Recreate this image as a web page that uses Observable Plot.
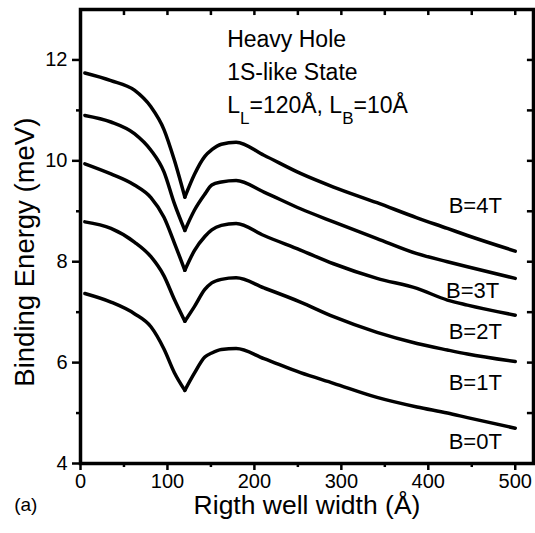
<!DOCTYPE html>
<html><head><meta charset="utf-8">
<script src="https://cdn.jsdelivr.net/npm/d3@7"></script>
<script src="https://cdn.jsdelivr.net/npm/@observablehq/plot@0.6"></script>
<style>body{margin:0;background:#fff} svg{display:block}</style>
</head><body><div id="chart"></div>
<script>
// Right well width (Å)
const widths = [5, 35, 62, 81, 96, 108, 120, 131, 143, 151, 162, 179, 211, 253, 291, 341, 387, 422, 445, 500];
// Binding energy (meV) per magnetic field
const b0T = [7.37, 7.20, 6.97, 6.71, 6.27, 5.80, 5.45, 5.79, 6.11, 6.19, 6.26, 6.28, 6.08, 5.80, 5.59, 5.31, 5.12, 5.00, 4.91, 4.70];
const b1T = [8.79, 8.66, 8.39, 8.10, 7.72, 7.25, 6.82, 7.11, 7.45, 7.58, 7.65, 7.68, 7.48, 7.20, 6.91, 6.60, 6.38, 6.25, 6.17, 6.02];
const b2T = [9.94, 9.74, 9.52, 9.27, 8.88, 8.37, 7.83, 8.22, 8.50, 8.63, 8.72, 8.76, 8.52, 8.23, 7.96, 7.67, 7.47, 7.24, 7.14, 6.94];
const b3T = [10.90, 10.77, 10.54, 10.21, 9.78, 9.15, 8.62, 9.02, 9.34, 9.52, 9.58, 9.61, 9.38, 9.05, 8.79, 8.46, 8.16, 8.00, 7.90, 7.67];
const b4T = [11.74, 11.59, 11.40, 11.07, 10.62, 10.01, 9.28, 9.73, 10.09, 10.22, 10.33, 10.37, 10.11, 9.75, 9.48, 9.17, 8.87, 8.66, 8.52, 8.21];
const wellCenter = 120; // the dip, where the left well width equals the right one

const seriesNames = ["B=0T", "B=1T", "B=2T", "B=3T", "B=4T"];
const seriesValues = [b0T, b1T, b2T, b3T, b4T];
const labelX = [454, 454, 454, 451, 454];
const labelY = [4.29, 5.45, 6.47, 7.28, 8.96];

const annLines = ["Heavy Hole", "1S-like State", "L_L=120Å, L_B=10Å"];
const annX = [168.7, 168.7, 168.7];
const annY = [12.266, 11.611, 10.943];

const xTicks = [0, 100, 200, 300, 400, 500];
const xMinor = [50, 150, 250, 350, 450];
const xTop = [50, 100, 150, 200, 250, 300, 350, 400, 450, 500];
const yTicks = [4, 6, 8, 10, 12];
const yMinor = [5, 7, 9, 11];
const yRight = [5, 6, 7, 8, 9, 10, 11, 12];

const xLabel = "Rigth well width (Å)";
const yLabel = "Binding Energy (meV)";
const panelLabel = "(a)";

// each curve is drawn as two smooth branches meeting in the sharp dip
const table = [];
seriesNames.forEach((name, i) => {
  widths.forEach((w, j) => {
    const e = seriesValues[i][j];
    if (w <= wellCenter) table.push({series: name, seg: name + "-L", width: w, energy: e});
    if (w >= wellCenter) table.push({series: name, seg: name + "-R", width: w, energy: e});
  });
});
const labels = seriesNames.map((name, i) => ({text: name, x: labelX[i], y: labelY[i]}));
const ann = annLines.map((t, i) => ({text: t, x: annX[i], y: annY[i]}));

const tickStyle = {stroke: "black", strokeWidth: 2.5};

const chart = Plot.plot({
  width: 535, height: 533,
  marginLeft: 80, marginRight: 2, marginTop: 9, marginBottom: 70,
  x: {domain: [0, 521]},
  y: {domain: [4, 13]},
  style: {fontFamily: "'Liberation Sans', Arial, Helvetica, sans-serif", background: "white", color: "black"},
  marks: [
    Plot.line(table, {x: "width", y: "energy", z: "seg", curve: "monotone-x", stroke: "black", strokeWidth: 3.5}),
    Plot.frame({stroke: "black", strokeWidth: 3.5}),
    Plot.axisX(xTicks, {tickSize: 7, tickPadding: 3, fontSize: 20, strokeWidth: 2.5, label: null, tickFormat: d3.format("d")}),
    Plot.axisY(yTicks, {tickSize: 8, tickPadding: 5, fontSize: 20, strokeWidth: 2.5, label: null, tickFormat: d3.format("d")}),
    // minor outward ticks (bottom, left)
    Plot.ruleX(xMinor, {x: d => d, y1: 4, y2: 3.92, ...tickStyle}),
    Plot.ruleY(yMinor, {y: d => d, x1: 0, x2: -4.6, ...tickStyle}),
    // inward ticks (top, right)
    Plot.ruleX(xTop, {x: d => d, y1: 13, y2: 12.88, ...tickStyle}),
    Plot.ruleY(yRight, {y: d => d, x1: 521, x2: 514, ...tickStyle}),
    Plot.text(labels, {x: "x", y: "y", text: "text", fontSize: 22, textAnchor: "middle", lineAnchor: "bottom", fill: "black"}),
    Plot.text(ann, {x: "x", y: "y", text: "text", fontSize: 23, textAnchor: "start", lineAnchor: "bottom", fill: "black"}),
    Plot.text([xLabel], {x: 260.5, y: 3.0, text: d => d, fontSize: 26.5, textAnchor: "middle", lineAnchor: "bottom", fill: "black"}),
    Plot.text([yLabel], {x: -53, y: 8.19, text: d => d, fontSize: 27.5, rotate: -90, textAnchor: "middle", lineAnchor: "bottom", fill: "black"}),
    Plot.text([panelLabel], {x: -76.3, y: 3.05, text: d => d, fontSize: 19, textAnchor: "start", lineAnchor: "bottom", fill: "black"})
  ]
});

// subscripts for "L_L", "L_B"
chart.querySelectorAll("text").forEach(t => {
  const s = t.textContent;
  if (!s.includes("_")) return;
  t.textContent = "";
  const parts = s.split(/_(.)/);
  parts.forEach((p, i) => {
    const ts = document.createElementNS("http://www.w3.org/2000/svg", "tspan");
    ts.textContent = p;
    if (i % 2 === 1) { ts.setAttribute("dy", "11"); ts.setAttribute("font-size", "17"); }
    else if (i > 0) { ts.setAttribute("dy", "-11"); }
    t.appendChild(ts);
  });
});

document.getElementById("chart").appendChild(chart);
</script>
</body></html>
